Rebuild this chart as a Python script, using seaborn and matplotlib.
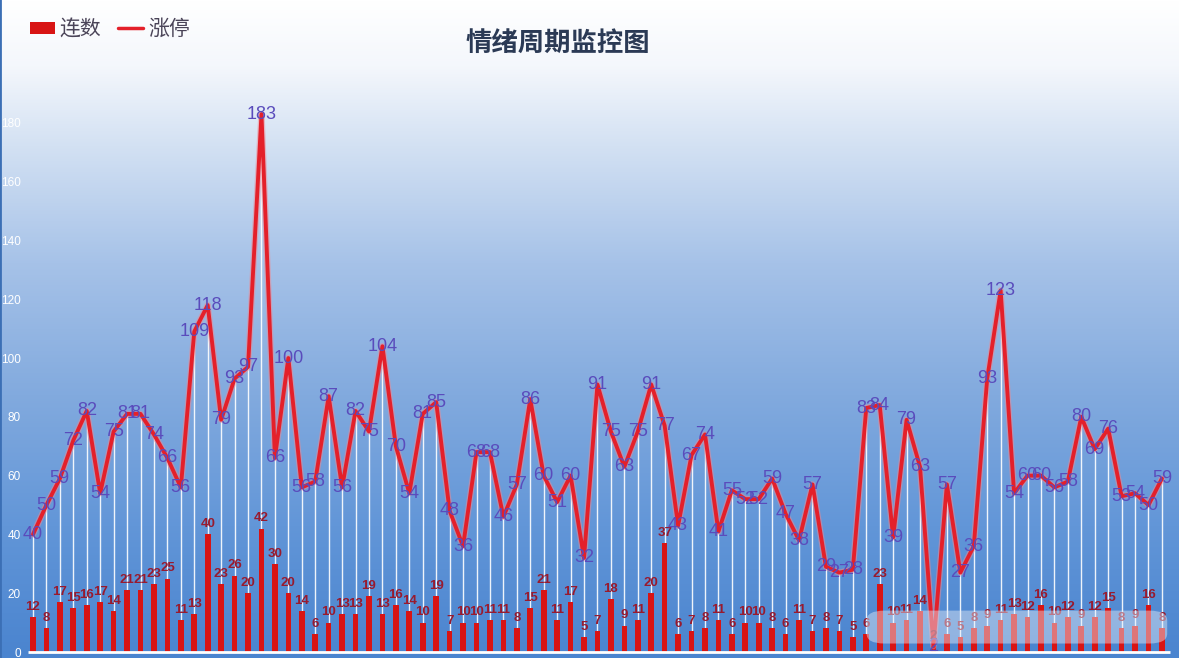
import matplotlib
matplotlib.use("Agg")
import numpy as np
import matplotlib.pyplot as plt
from matplotlib.colors import LinearSegmentedColormap
from matplotlib.lines import Line2D
from matplotlib.patches import Patch, FancyBboxPatch
import seaborn as sns

# 涨停 (line) and 连数 (bars), one value per trading day
zhangting = [40, 50, 59, 72, 82, 54, 75, 81, 81, 74,
             66, 56, 109, 118, 79, 93, 97, 183, 66, 100,
             56, 58, 87, 56, 82, 75, 104, 70, 54, 81,
             85, 48, 36, 68, 68, 46, 57, 86, 60, 51,
             60, 32, 91, 75, 63, 75, 91, 77, 43, 67,
             74, 41, 55, 52, 52, 59, 47, 38, 57, 29,
             27, 28, 83, 84, 39, 79, 63, 2, 57, 27,
             36, 93, 123, 54, 60, 60, 56, 58, 80, 69,
             76, 53, 54, 50, 59]
lianshu = [12, 8, 17, 15, 16, 17, 14, 21, 21, 23,
           25, 11, 13, 40, 23, 26, 20, 42, 30, 20,
           14, 6, 10, 13, 13, 19, 13, 16, 14, 10,
           19, 7, 10, 10, 11, 11, 8, 15, 21, 11,
           17, 5, 7, 18, 9, 11, 20, 37, 6, 7,
           8, 11, 6, 10, 10, 8, 6, 11, 7, 8,
           7, 5, 6, 23, 10, 11, 14, 2, 6, 5,
           8, 9, 11, 13, 12, 16, 10, 12, 9, 12,
           15, 8, 9, 16, 8]
y_ticks = list(range(0, 181, 20))
title = "情绪周期监控图"
legend_labels = ["连数", "涨停"]

BAR = "#d81414"
LINE = "#e4202a"
LINE_LABEL = "#5a4cbc"
BAR_LABEL = "#981a2e"

sns.set_theme(style="white")
plt.rcParams["font.family"] = ["Noto Sans CJK SC", "DejaVu Sans"]

fig = plt.figure(figsize=(11.79, 6.58), dpi=100)
ax = fig.add_axes([0, 0, 1, 1])

# background: white at top fading to blue at the bottom
bg = LinearSegmentedColormap.from_list(
    "bg",
    [(0.0, "#4a84cf"), (0.2, "#6296d8"), (0.4, "#82aade"),
     (0.6, "#a6c2e8"), (0.78, "#d3e1f3"), (0.9, "#f4f7fc"), (1.0, "#ffffff")],
)
grad = np.linspace(0, 1, 256).reshape(-1, 1)
ax.imshow(grad, cmap=bg, origin="lower", aspect="auto",
          extent=(0, 1, 0, 1), transform=ax.transAxes, zorder=0)

idx = np.arange(len(zhangting))

# drop lines from each 涨停 point
ax.vlines(idx, 0, zhangting, color="white", lw=1.0, alpha=0.9, zorder=2)

sns.barplot(x=idx, y=lianshu, color=BAR, width=0.42, saturation=1,
            errorbar=None, linewidth=0, edgecolor="none", ax=ax, zorder=3)

ax.plot(idx, zhangting, color="#f08890", lw=4.6, alpha=0.5, zorder=4,
        solid_joinstyle="round")
sns.lineplot(x=idx, y=zhangting, color=LINE, linewidth=2.8, ax=ax, zorder=5)

ax.hlines(0, -0.4, len(idx) - 0.4, color="white", lw=2, zorder=6)

for i, v in enumerate(lianshu):
    ax.annotate(str(v), (i, v), xytext=(0, 3), textcoords="offset points",
                ha="center", va="bottom", fontsize=9.5, fontweight="bold",
                color=BAR_LABEL, family="Liberation Sans", zorder=7)
for i, v in enumerate(zhangting):
    ax.text(i, v, str(v), ha="center", va="center", fontsize=13,
            color=LINE_LABEL, family="Liberation Sans", zorder=8)

# blurred watermark band bottom right
ax.add_patch(FancyBboxPatch((0.735, 0.022), 0.255, 0.05,
                            boxstyle="round,pad=0,rounding_size=0.015",
                            transform=ax.transAxes, facecolor="#e6ecf6",
                            edgecolor="none", alpha=0.45, zorder=9))

ax.set_xlim(-2.455, 85.27)
ax.set_ylim(-2.04, 221.8)
ax.set_xticks([])
ax.set_yticks(y_ticks)
ax.set_yticklabels([str(t) for t in y_ticks])
ax.tick_params(axis="y", length=0, pad=-15, labelcolor="white", labelsize=8.5)
for lab in ax.get_yticklabels():
    lab.set_family("Liberation Sans")
ax.set_xlabel("")
ax.set_ylabel("")
for side in ["top", "right", "bottom"]:
    ax.spines[side].set_visible(False)
ax.spines["left"].set_color("#3b6fb5")
ax.spines["left"].set_linewidth(2)

handles = [Patch(facecolor=BAR, edgecolor="none"),
           Line2D([], [], color=LINE, lw=2.5)]
leg = ax.legend(handles, legend_labels, loc="upper left",
                bbox_to_anchor=(0.018, 0.985), ncol=2, frameon=False,
                fontsize=15, handlelength=1.2, handleheight=0.55,
                handletextpad=0.25, columnspacing=0.8, borderaxespad=0)
for t in leg.get_texts():
    t.set_color("#4a4458")

fig.text(558 / 1179, 1 - 43 / 658, title, ha="center", va="center",
         fontsize=19, fontweight="bold", color="#2b3a55")

fig.savefig("out.png", dpi=100)
plt.close(fig)
